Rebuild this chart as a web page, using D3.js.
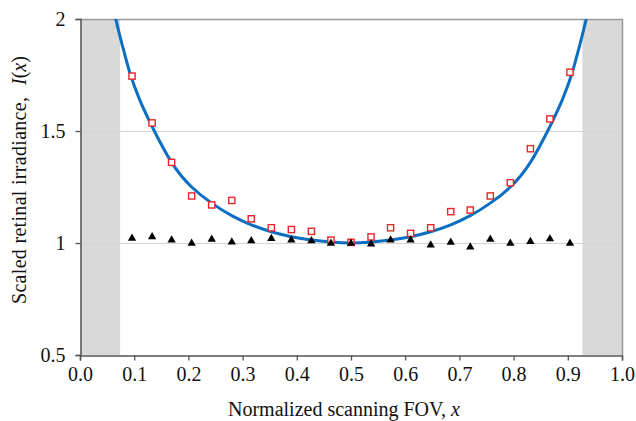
<!DOCTYPE html>
<html>
<head>
<meta charset="utf-8">
<script src="https://cdn.jsdelivr.net/npm/d3@7"></script>
<style>
  html, body { margin: 0; padding: 0; background: #fff; }
  svg { display: block; }
</style>
</head>
<body>
<svg id="chart" width="636" height="421"></svg>
<script>
// ---- data ----
const xTicks = [0.0, 0.1, 0.2, 0.3, 0.4, 0.5, 0.6, 0.7, 0.8, 0.9, 1.0];
const xTickLabels = ["0.0", "0.1", "0.2", "0.3", "0.4", "0.5", "0.6", "0.7", "0.8", "0.9", "1.0"];
const yTicks = [0.5, 1, 1.5, 2];
const yTickLabels = ["0.5", "1", "1.5", "2"];
const gridValues = [1, 1.5];

const sampleX = [0.096, 0.133, 0.169, 0.206, 0.243, 0.280, 0.316, 0.353, 0.390, 0.427, 0.463, 0.500,
                 0.537, 0.573, 0.610, 0.647, 0.684, 0.720, 0.757, 0.794, 0.831, 0.867, 0.904];
const measured = [1.745, 1.536, 1.360, 1.210, 1.170, 1.190, 1.108, 1.068, 1.060, 1.052, 1.013, 1.003,
                  1.027, 1.068, 1.043, 1.068, 1.140, 1.147, 1.210, 1.269, 1.421, 1.554, 1.762];
const corrected = [1.021, 1.028, 1.013, 0.999, 1.016, 1.004, 1.010, 1.020, 1.013, 1.010, 0.999, 0.999,
                   0.995, 1.013, 1.013, 0.991, 1.003, 0.982, 1.016, 0.999, 1.006, 1.018, 0.999];

const curveX = [0.052, 0.066, 0.080, 0.093, 0.110, 0.133, 0.169, 0.206, 0.243, 0.280, 0.316, 0.353, 0.390, 0.427, 0.463, 0.500,
                0.537, 0.573, 0.610, 0.647, 0.684, 0.720, 0.757, 0.794, 0.831, 0.867, 0.890, 0.907, 0.920, 0.934, 0.948];
const curveY = [2.17, 2.00, 1.865, 1.752, 1.640, 1.520, 1.360, 1.250, 1.178, 1.122, 1.081, 1.050, 1.028, 1.013, 1.004, 1.000,
                1.004, 1.013, 1.028, 1.050, 1.081, 1.122, 1.178, 1.250, 1.360, 1.520, 1.640, 1.752, 1.865, 2.00, 2.17];

const leftShade = [0.0, 0.074];
const rightShade = [0.927, 1.0];

// ---- layout ----
const FONT = "'Liberation Serif'";
const svg = d3.select("#chart");
const L = 80, R = 622, T = 19, B = 355;
const x = d3.scaleLinear().domain([0, 1]).range([L, R]);
const y = d3.scaleLinear().domain([0.5, 2]).range([B, T]);

svg.append("defs").append("clipPath").attr("id", "plotclip")
  .append("rect").attr("x", L).attr("y", T).attr("width", R - L).attr("height", B - T);

// shaded regions
[leftShade, rightShade].forEach(s => {
  svg.append("rect")
    .attr("x", x(s[0])).attr("y", y(2))
    .attr("width", x(s[1]) - x(s[0])).attr("height", y(0.5) - y(2))
    .attr("fill", "#d9d9d9");
});

// gridlines
svg.append("g").selectAll("line").data(gridValues).join("line")
  .attr("x1", L).attr("x2", R)
  .attr("y1", d => Math.round(y(d)) + 0.5).attr("y2", d => Math.round(y(d)) + 0.5)
  .attr("stroke", "#d4d4d4").attr("stroke-width", 1.2);

// frame top/right
svg.append("path")
  .attr("d", `M${L},${T + 0.5}H${R + 0.5}V${B}`)
  .attr("fill", "none").attr("stroke", "#9a9a9a").attr("stroke-width", 1.5);

// axes
const xAxis = d3.axisBottom(x).tickValues(xTicks).tickFormat((d, i) => xTickLabels[i]).tickSize(5).tickPadding(6);
const gx = svg.append("g").attr("transform", `translate(0,${B + 0.5})`).call(xAxis);
gx.attr("font-family", null).attr("font-size", null);
gx.select(".domain").attr("stroke", "#555").attr("stroke-width", 1.5);
gx.selectAll(".tick line").attr("stroke", "#555").attr("stroke-width", 1.3);
gx.selectAll(".tick text").attr("fill", "#111")
  .style("font-family", FONT).style("font-size", "20px");

const yAxis = d3.axisLeft(y).tickValues(yTicks).tickFormat((d, i) => yTickLabels[i]).tickSize(5).tickPadding(10);
const gy = svg.append("g").attr("transform", `translate(${L + 0.5},0)`).call(yAxis);
gy.attr("font-family", null).attr("font-size", null);
gy.select(".domain").attr("stroke", "#555").attr("stroke-width", 1.5);
gy.selectAll(".tick line").attr("stroke", "#555").attr("stroke-width", 1.3);
gy.selectAll(".tick text").attr("fill", "#111")
  .style("font-family", FONT).style("font-size", "20px");

// curve
const curveData = curveX.map((d, i) => [d, curveY[i]]);
svg.append("path")
  .datum(curveData)
  .attr("clip-path", "url(#plotclip)")
  .attr("d", d3.line().x(d => x(d[0])).y(d => y(d[1])).curve(d3.curveNatural))
  .attr("fill", "none").attr("stroke", "#0a6fc2").attr("stroke-width", 3);

// red squares
const sq = 6.2;
svg.append("g").selectAll("rect").data(sampleX).join("rect")
  .attr("x", (d) => x(d) - sq / 2)
  .attr("y", (d, i) => y(measured[i]) - sq / 2)
  .attr("width", sq).attr("height", sq)
  .attr("fill", "#fff").attr("stroke", "#e8262b").attr("stroke-width", 1.4);

// black triangles
const tri = d3.symbol().type(d3.symbolTriangle).size(30);
svg.append("g").selectAll("path").data(sampleX).join("path")
  .attr("transform", (d, i) => `translate(${x(d)},${y(corrected[i])})`)
  .attr("d", tri)
  .attr("fill", "#000");

// axis titles
const xt = svg.append("text")
  .attr("x", 228).attr("y", 416)
  .attr("fill", "#111")
  .style("font-family", FONT).style("font-size", "20px");
xt.append("tspan").text("Normalized scanning FOV, ");
xt.append("tspan").attr("font-style", "italic").text("x");

const yt = svg.append("text")
  .attr("transform", "translate(26,0) rotate(-90)")
  .attr("y", 0)
  .attr("fill", "#111")
  .style("font-family", FONT).style("font-size", "20px");
yt.append("tspan").attr("x", -304).attr("textLength", 207).attr("lengthAdjust", "spacing")
  .text("Scaled retinal irradiance,");
yt.append("tspan").attr("x", -85).attr("font-style", "italic").text("I");
yt.append("tspan").text("(");
yt.append("tspan").attr("font-style", "italic").text("x");
yt.append("tspan").text(")");
</script>
</body>
</html>
